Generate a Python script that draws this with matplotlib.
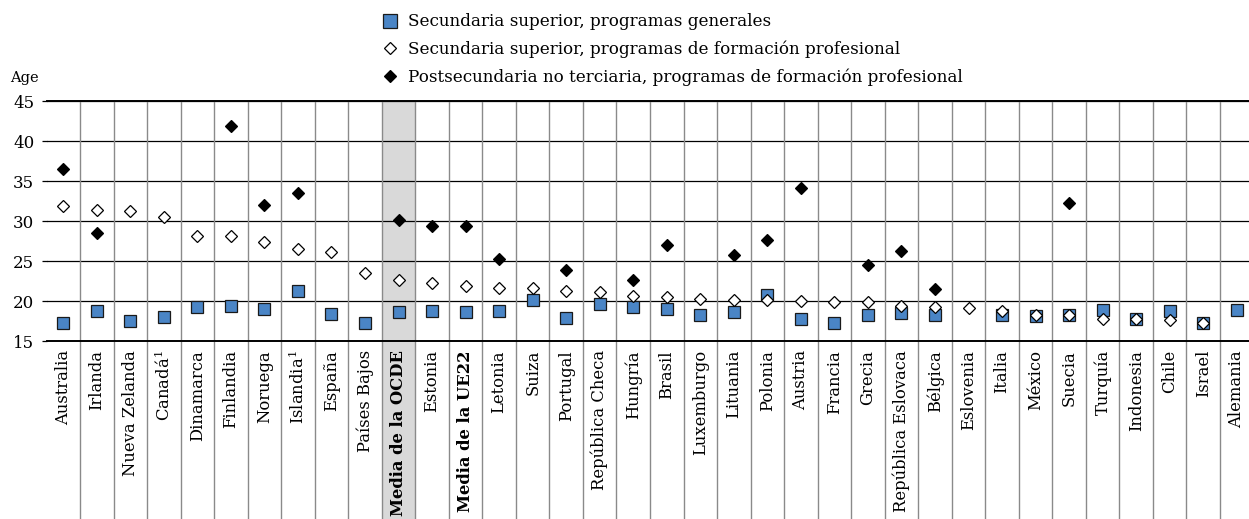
import numpy as np
import matplotlib
matplotlib.use("Agg")
import matplotlib.pyplot as plt
from matplotlib.lines import Line2D

plt.rcParams["font.family"] = "DejaVu Serif"
plt.rcParams["mathtext.fontset"] = "dejavuserif"

nan = np.nan

countries = ["Australia", "Irlanda", "Nueva Zelanda", "Canadá$^1$", "Dinamarca",
             "Finlandia", "Noruega", "Islandia$^1$", "España", "Países Bajos",
             "Media de la OCDE", "Estonia", "Media de la UE22", "Letonia", "Suiza",
             "Portugal", "República Checa", "Hungría", "Brasil", "Luxemburgo",
             "Lituania", "Polonia", "Austria", "Francia", "Grecia",
             "República Eslovaca", "Bélgica", "Eslovenia", "Italia", "México",
             "Suecia", "Turquía", "Indonesia", "Chile", "Israel", "Alemania"]

# upper secondary, general programmes
general = [17.2, 18.7, 17.5, 18.0, 19.3, 19.4, 19.0, 21.2, 18.4, 17.2,
           18.6, 18.7, 18.6, 18.8, 20.1, 17.9, 19.6, 19.2, 19.0, 18.2,
           18.6, 20.7, 17.8, 17.3, 18.2, 18.5, 18.3, nan, 18.2, 18.1,
           18.2, 18.9, 17.7, 18.8, 17.2, 18.9]

# upper secondary, vocational programmes
vocational = [31.9, 31.4, 31.3, 30.5, 28.1, 28.1, 27.4, 26.5, 26.1, 23.5,
              22.6, 22.2, 21.9, 21.6, 21.6, 21.2, 21.1, 20.6, 20.5, 20.2,
              20.1, 20.1, 20.0, 19.9, 19.9, 19.4, 19.2, 19.1, 18.8, 18.2,
              18.2, 17.8, 17.7, 17.6, 17.2, nan]

# post-secondary non-tertiary, vocational programmes
post_sec = [36.5, 28.5, nan, nan, nan, 41.9, 32.0, 33.5, nan, nan,
            30.1, 29.4, 29.4, 25.2, nan, 23.9, nan, 22.6, 27.0, nan,
            25.8, 27.6, 34.1, nan, 24.5, 26.2, 21.5, nan, nan, nan,
            32.3, nan, nan, nan, nan, nan]

series_labels = ["Secundaria superior, programas generales",
                 "Secundaria superior, programas de formación profesional",
                 "Postsecundaria no terciaria, programas de formación profesional"]

bold_labels = ["Media de la OCDE", "Media de la UE22"]
highlight = "Media de la OCDE"

W, H = 1249, 519
fig = plt.figure(figsize=(W / 100, H / 100), dpi=100)
ax = fig.add_axes([46.5 / W, (H - 341) / H, 1207 / W, 240 / H])

x = np.arange(len(countries))
below = -178 / 240  # how far separators/shading go under the axis (axes fraction)

# shaded column for the OECD average
hi = countries.index(highlight)
ax.axvspan(hi - 0.5, hi + 0.5, ymin=below, ymax=1, color="#d9d9d9", lw=0,
           clip_on=False, zorder=0)

# vertical separators between countries
for b in x[:-1] + 0.5:
    ax.axvline(b, ymin=below, ymax=1, color="#8a8a8a", lw=1.0, clip_on=False, zorder=1)

ax.set_xlim(-0.5, len(countries) - 0.5)
ax.set_ylim(15, 45)
ax.set_yticks(np.arange(15, 46, 5))
ax.yaxis.grid(True, color="black", lw=0.9, zorder=1)
ax.set_axisbelow(True)
for s in ["left", "right"]:
    ax.spines[s].set_visible(False)
for s in ["top", "bottom"]:
    ax.spines[s].set_linewidth(1.4)

ax.plot(x, general, ls="none", marker="s", ms=9.2, mfc="#4a85c6", mec="#1a1a1a",
        mew=0.9, zorder=3, label=series_labels[0])
ax.plot(x, vocational, ls="none", marker="D", ms=6.2, mfc="white", mec="black",
        mew=0.9, zorder=4, label=series_labels[1])
ax.plot(x, post_sec, ls="none", marker="D", ms=6.2, mfc="black", mec="black",
        mew=0.9, zorder=5, label=series_labels[2])

ax.set_xticks(x)
ax.set_xticklabels(countries, rotation=90, va="top", ha="center", fontsize=11.8)
for lab in ax.get_xticklabels():
    if lab.get_text() in bold_labels:
        lab.set_fontweight("bold")
ax.tick_params(axis="x", length=0, pad=6.5)
ax.tick_params(axis="y", length=3.3, width=0.9, direction="out", pad=5.5,
               labelsize=12)

fig.text(10 / W, 1 - 78 / H, "Age", ha="left", va="center", fontsize=10.5)

handles = [
    Line2D([], [], ls="none", marker="s", ms=9.4, mfc="#4a85c6", mec="#1a1a1a", mew=0.9),
    Line2D([], [], ls="none", marker="D", ms=6.6, mfc="white", mec="black", mew=0.9),
    Line2D([], [], ls="none", marker="D", ms=6.6, mfc="black", mec="black", mew=0.9),
]
fig.legend(handles, series_labels, loc="upper left",
           bbox_to_anchor=(382 / W, 1 - 13.5 / H), frameon=False, fontsize=12.1,
           handlelength=0.9, handletextpad=0.63, labelspacing=0.6,
           borderpad=0, borderaxespad=0)

fig.savefig("out.png", dpi=100)
